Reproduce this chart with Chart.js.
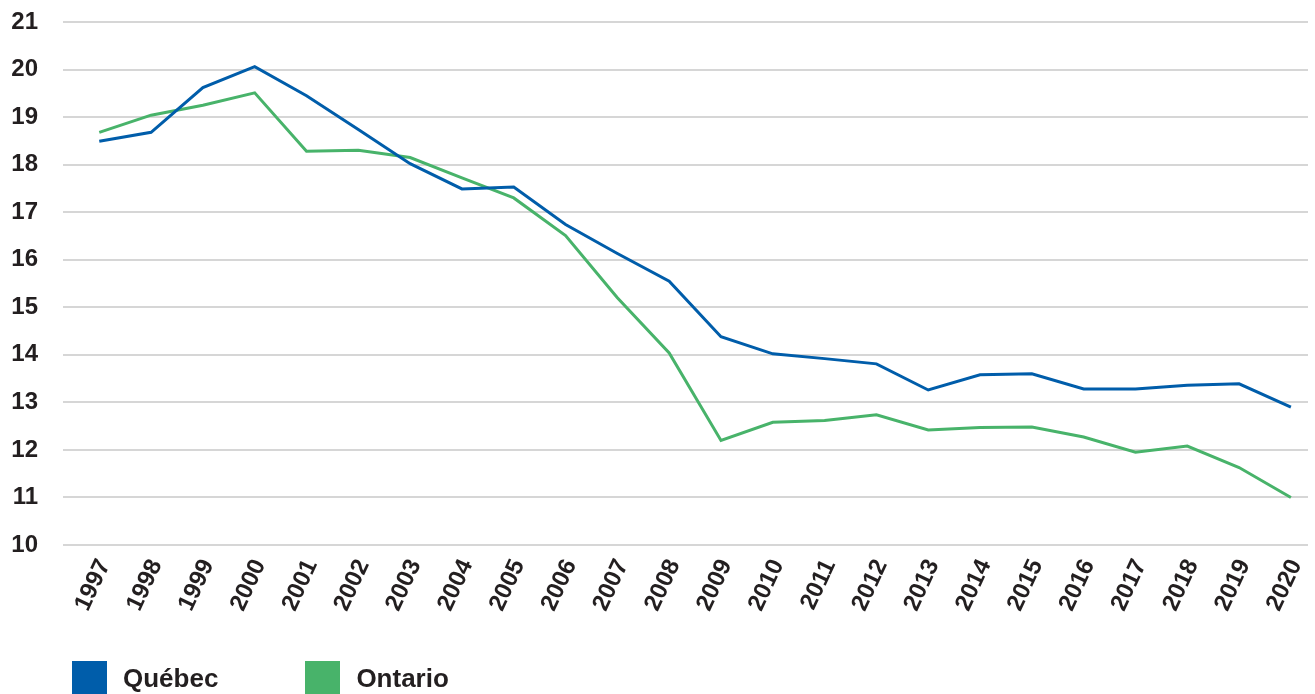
<!DOCTYPE html>
<html>
<head>
<meta charset="utf-8">
<script src="https://cdn.jsdelivr.net/npm/chart.js@4"></script>
<style>
  html, body { margin: 0; padding: 0; background: #fff; }
  #wrap { position: relative; width: 1315px; height: 694px; overflow: hidden; }
  #legend { position: absolute; left: 72px; top: 661px; display: flex; font-family: "Liberation Sans", Arial, sans-serif; font-weight: bold; font-size: 26px; color: #231f20; }
  .item { display: flex; align-items: center; height: 35px; }
  .box { width: 35px; height: 35px; margin-right: 16px; }
  .item + .item { margin-left: 87px; }
</style>
</head>
<body>
<div id="wrap">
  <canvas id="lineChart" width="1315" height="694"></canvas>
  <div id="legend"></div>
</div>
<script>
// Data
const years = [1997, 1998, 1999, 2000, 2001, 2002, 2003, 2004, 2005, 2006, 2007, 2008,
               2009, 2010, 2011, 2012, 2013, 2014, 2015, 2016, 2017, 2018, 2019, 2020];
const quebec = [18.49, 18.68, 19.62, 20.06, 19.45, 18.74, 18.02, 17.49, 17.53, 16.74, 16.13, 15.55,
                14.38, 14.02, 13.92, 13.81, 13.26, 13.58, 13.60, 13.28, 13.28, 13.36, 13.39, 12.90];
const ontario = [18.68, 19.04, 19.25, 19.51, 18.28, 18.30, 18.15, 17.72, 17.30, 16.51, 15.20, 14.04,
                 12.20, 12.58, 12.62, 12.74, 12.42, 12.47, 12.48, 12.27, 11.95, 12.08, 11.63, 11.00];
const seriesNames = ['Québec', 'Ontario'];
const seriesColors = ['#005daa', '#48b36a'];
const yTicks = [10, 11, 12, 13, 14, 15, 16, 17, 18, 19, 20, 21];

const textColor = '#231f20';
const fontFamily = '"Liberation Sans", Arial, sans-serif';

function toPoints(values) {
    return values.map((v, i) => ({ x: years[i], y: v }));
}

// no automatic label overhang padding, the layout is set by hand
function noScalePadding(axis) {
    axis.paddingLeft = 0;
    axis.paddingRight = 0;
    axis.paddingTop = 0;
    axis.paddingBottom = 0;
}

const ctx = document.getElementById('lineChart').getContext('2d');
const chart = new Chart(ctx, {
    type: 'line',
    data: {
        datasets: [quebec, ontario].map((vals, i) => ({
            label: seriesNames[i],
            data: toPoints(vals),
            borderColor: seriesColors[i],
            backgroundColor: seriesColors[i],
            borderWidth: 3,
            pointRadius: 0,
            tension: 0
        }))
    },
    options: {
        responsive: false,
        animation: false,
        layout: { autoPadding: false, padding: { left: 0, right: 7, top: 22, bottom: 0 } },
        plugins: {
            legend: { display: false },
            tooltip: { enabled: false }
        },
        scales: {
            x: {
                type: 'linear',
                min: 1996.3,
                max: 2020.33,
                border: { display: false },
                grid: { display: false, drawTicks: false },
                afterBuildTicks: (axis) => { axis.ticks = years.map(v => ({ value: v })); },
                afterFit: (axis) => { axis.height = 149; noScalePadding(axis); },
                ticks: {
                    autoSkip: false,
                    minRotation: 65,
                    maxRotation: 65,
                    padding: 10,
                    labelOffset: 5,
                    color: textColor,
                    font: { family: fontFamily, size: 24, weight: 'bold' },
                    callback: (v) => String(v)
                }
            },
            y: {
                min: yTicks[0],
                max: yTicks[yTicks.length - 1],
                border: { display: false },
                grid: { color: '#d6d6d6', lineWidth: 2, drawTicks: false },
                afterBuildTicks: (axis) => { axis.ticks = yTicks.map(v => ({ value: v })); },
                afterFit: (axis) => { axis.width = 63; noScalePadding(axis); },
                ticks: {
                    padding: 25,
                    color: textColor,
                    font: { family: fontFamily, size: 24, weight: 'bold' }
                }
            }
        }
    }
});

// HTML legend built from the datasets
const legendEl = document.getElementById('legend');
chart.data.datasets.forEach(ds => {
    const item = document.createElement('div');
    item.className = 'item';
    const box = document.createElement('span');
    box.className = 'box';
    box.style.background = ds.borderColor;
    const label = document.createElement('span');
    label.textContent = ds.label;
    item.appendChild(box);
    item.appendChild(label);
    legendEl.appendChild(item);
});
</script>
</body>
</html>
